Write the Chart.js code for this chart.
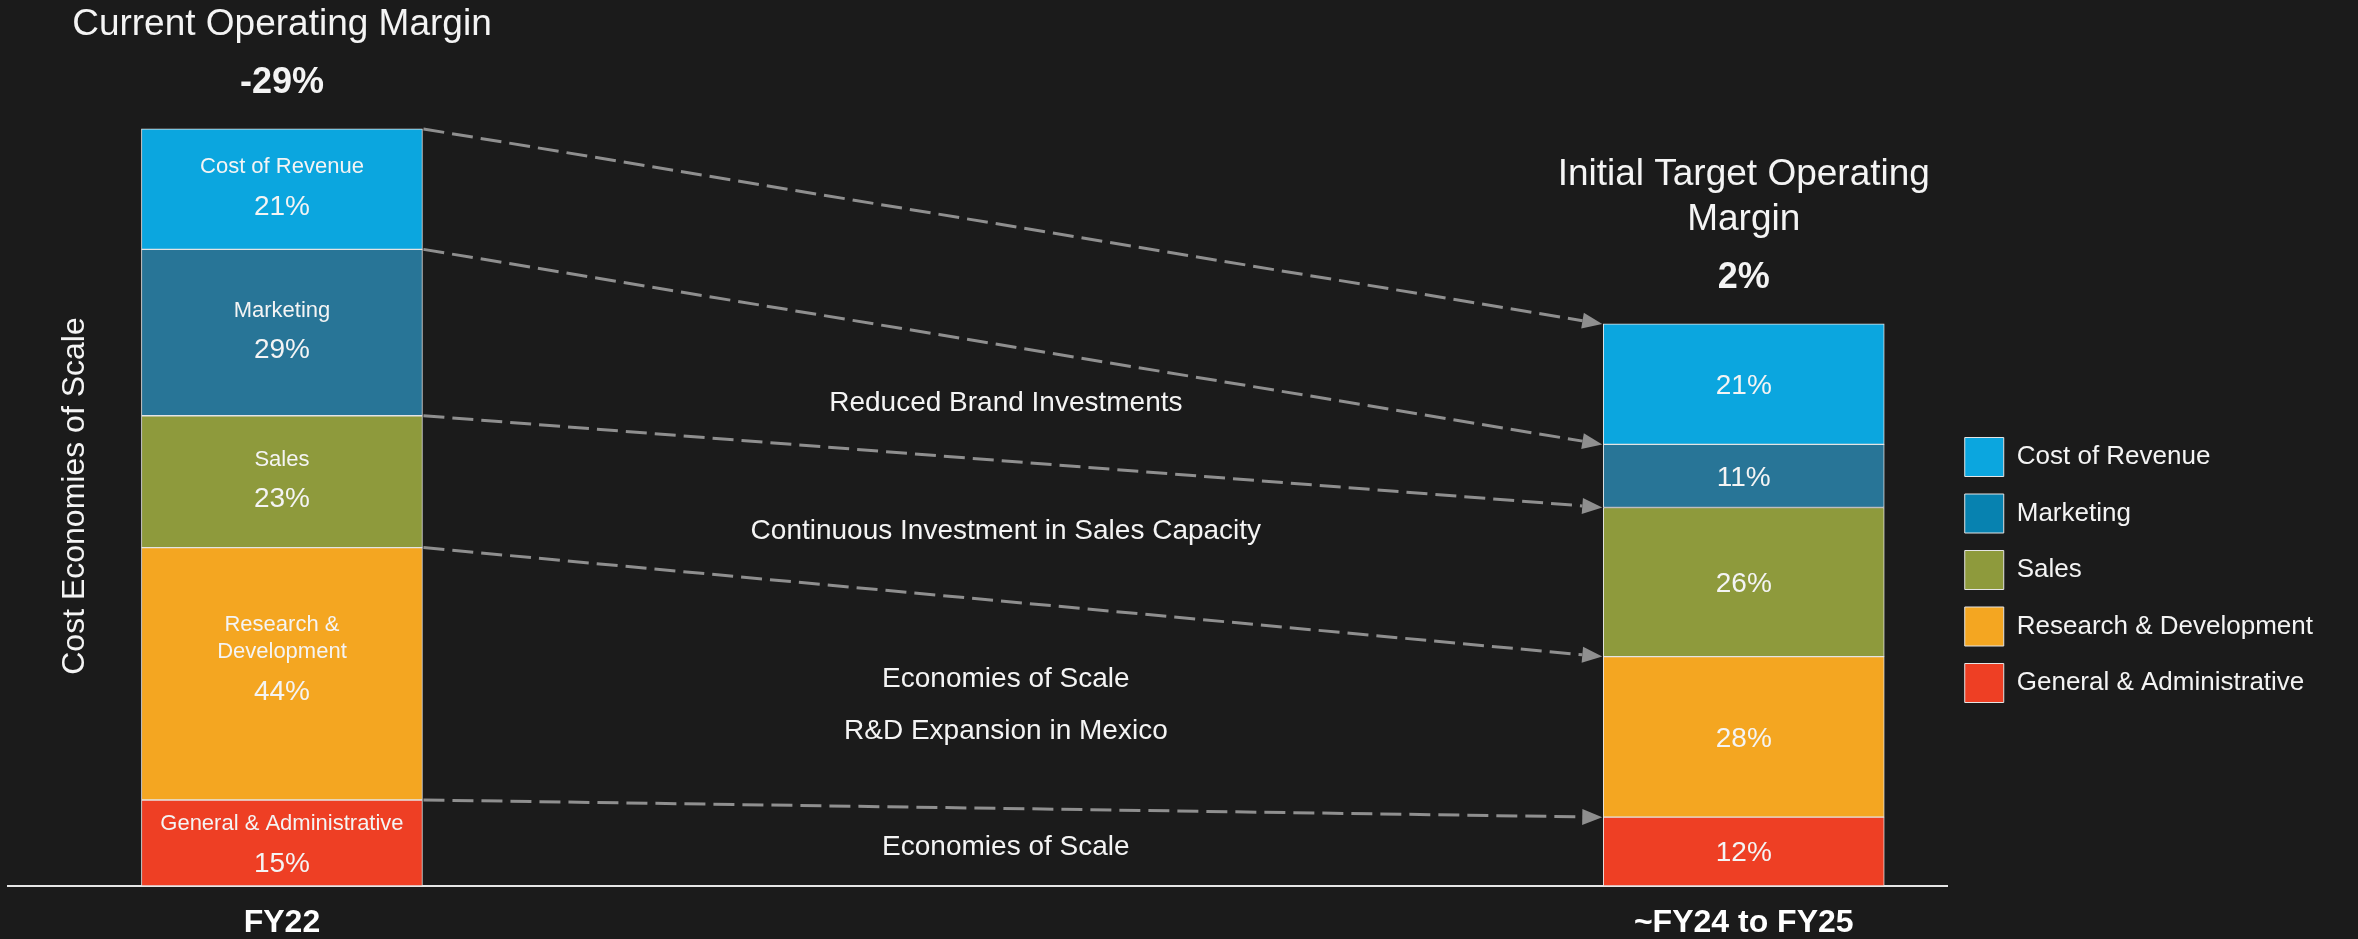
<!DOCTYPE html>
<html>
<head>
<meta charset="utf-8">
<script src="https://cdn.jsdelivr.net/npm/chart.js@4"></script>
<style>
  html, body { margin: 0; padding: 0; background: #1b1b1b; }
  #wrap { width: 2358px; height: 939px; position: relative; }
</style>
</head>
<body>
<div id="wrap"><canvas id="margin-chart"></canvas></div>
<script>
// data
const categories = ['FY22', '~FY24 to FY25'];
const costItems = ['Cost of Revenue', 'Marketing', 'Sales', 'Research & Development', 'General & Administrative'];
const barNames = [['Cost of Revenue'], ['Marketing'], ['Sales'], ['Research &', 'Development'], ['General & Administrative']];
const fy22Values = [21, 29, 23, 44, 15];
const fy25Values = [21, 11, 26, 28, 12];
const operatingMargins = [-29, 2];
const headings = [['Current Operating Margin'], ['Initial Target Operating', 'Margin']];
const driverNotes = [[], ['Reduced Brand Investments'], ['Continuous Investment in Sales Capacity'], ['Economies of Scale', 'R&D Expansion in Mexico'], ['Economies of Scale']];
const yAxisTitle = 'Cost Economies of Scale';

const barColors = ['#0ba6df', '#287597', '#8e9a3c', '#f4a621', '#ee3f24'];
const legendColors = ['#0ba6df', '#0782b0', '#8e9a3c', '#f4a621', '#ee3f24'];
const FONT = "'Liberation Sans', Arial, sans-serif";
const TEXT = '#f4f4f4';

Chart.defaults.font.family = FONT;
Chart.defaults.color = TEXT;

const series = [fy22Values, fy25Values];

// bottom segment first so the stack builds upward
const datasets = costItems.map((name, i) => ({
  label: name,
  data: series.map((vals, j) => ({ x: j, y: vals[i] })),
  backgroundColor: barColors[i],
  borderColor: '#e4e4e4',
  borderWidth: 1,
  borderSkipped: false,
  stack: 'cost',
  barThickness: 281
})).reverse();

function itemIndex(datasetIndex) {
  return costItems.length - 1 - datasetIndex;
}

function drawLines(ctx, lines, x, y, gap) {
  lines.forEach((t, k) => ctx.fillText(t, x, y + k * gap));
}

const slideText = {
  id: 'slideText',
  afterDraw(chart) {
    const ctx = chart.ctx;
    const n = costItems.length;
    const segs = [];
    for (let d = 0; d < n; d++) {
      const meta = chart.getDatasetMeta(d);
      segs[itemIndex(d)] = meta.data.map(el => el.getProps(['x', 'y', 'base', 'width'], true));
    }

    ctx.save();
    ctx.textAlign = 'center';
    ctx.textBaseline = 'middle';
    ctx.fillStyle = TEXT;

    // labels inside the bars
    segs.forEach((bars, i) => {
      const L = bars[0], R = bars[1];
      const cyL = (L.y + L.base) / 2;
      const low = i === n - 1 ? 3 : 0;
      ctx.font = '28px ' + FONT;
      ctx.fillText(fy22Values[i] + '%', L.x, cyL + 18 + low);
      ctx.font = '22px ' + FONT;
      const names = barNames[i];
      drawLines(ctx, names, L.x, cyL - 22 + low - (names.length - 1) * 27, 27);
      ctx.font = '28px ' + FONT;
      ctx.fillText(fy25Values[i] + '%', R.x, (R.y + R.base) / 2 + 2);
    });

    // dashed arrows joining the top of each segment
    const lineAt = (i, x) => {
      const L = segs[i][0], R = segs[i][1];
      const x0 = L.x + L.width / 2, x1 = R.x - R.width / 2;
      return L.y + (R.y - L.y) * (x - x0) / (x1 - x0);
    };
    ctx.strokeStyle = '#8f8f8f';
    ctx.fillStyle = '#8f8f8f';
    ctx.lineWidth = 3;
    segs.forEach(bars => {
      const L = bars[0], R = bars[1];
      const x0 = L.x + L.width / 2 + 1, y0 = L.y;
      const x1 = R.x - R.width / 2 - 1, y1 = R.y;
      const ang = Math.atan2(y1 - y0, x1 - x0);
      const len = 20, half = 8;
      const bx = x1 - Math.cos(ang) * len, by = y1 - Math.sin(ang) * len;
      ctx.setLineDash([21, 8]);
      ctx.beginPath();
      ctx.moveTo(x0, y0);
      ctx.lineTo(bx, by);
      ctx.stroke();
      ctx.setLineDash([]);
      ctx.beginPath();
      ctx.moveTo(x1, y1);
      ctx.lineTo(bx + Math.sin(ang) * half, by - Math.cos(ang) * half);
      ctx.lineTo(bx - Math.sin(ang) * half, by + Math.cos(ang) * half);
      ctx.closePath();
      ctx.fill();
    });

    // notes between the bars, centred in each band
    ctx.fillStyle = TEXT;
    ctx.font = '28px ' + FONT;
    const midX = (segs[0][0].x + segs[0][1].x) / 2 - 7;
    driverNotes.forEach((lines, i) => {
      if (!lines.length) return;
      const top = lineAt(i, midX);
      const bottom = i + 1 < n ? lineAt(i + 1, midX) : segs[i][0].base;
      const cy = (top + bottom) / 2;
      drawLines(ctx, lines, midX, cy - (lines.length - 1) * 26, 52);
    });

    // headings over each bar
    categories.forEach((c, j) => {
      const top = segs[0][j];
      ctx.font = 'bold 36px ' + FONT;
      ctx.fillText(operatingMargins[j] + '%', top.x, top.y - 46);
      ctx.font = '37px ' + FONT;
      const lines = headings[j];
      drawLines(ctx, lines, top.x, top.y - 104 - (lines.length - 1) * 45, 45);
    });
    ctx.restore();
  }
};

new Chart(document.getElementById('margin-chart'), {
  type: 'bar',
  data: { datasets },
  options: {
    responsive: true,
    maintainAspectRatio: false,
    animation: false,
    layout: { padding: { left: 8, right: 35, top: 106, bottom: 0 } },
    plugins: {
      tooltip: { enabled: false },
      legend: {
        position: 'right',
        reverse: true,
        title: { display: true, text: '', font: { size: 10 }, padding: { top: 83, bottom: 0 } },
        labels: {
          boxWidth: 39,
          boxHeight: 39,
          padding: 17.5,
          color: TEXT,
          font: { size: 26 },
          generateLabels(chart) {
            const items = Chart.defaults.plugins.legend.labels.generateLabels(chart);
            items.forEach(it => { it.fillStyle = legendColors[itemIndex(it.datasetIndex)]; });
            return items;
          }
        }
      }
    },
    scales: {
      x: {
        type: 'linear',
        offset: false,
        min: -0.1874,
        max: 1.1392,
        grid: { display: false, drawTicks: false, offset: false },
        border: { display: true, color: '#e6e6e6', width: 2 },
        afterBuildTicks(scale) {
          scale.ticks = categories.map((c, i) => ({ value: i }));
        },
        afterFit(scale) { scale.height = 53; },
        ticks: {
          padding: 18,
          color: '#ffffff',
          font: { size: 32, weight: 'bold' },
          callback: v => categories[v]
        }
      },
      y: {
        stacked: true,
        min: 0,
        max: 136,
        grid: { display: false },
        border: { display: false },
        ticks: { display: false },
        afterFit(scale) { scale.width = 0; },
        title: {
          display: true,
          text: yAxisTitle,
          color: TEXT,
          font: { size: 32 },
          padding: { top: 47.8, bottom: 0 }
        }
      }
    }
  },
  plugins: [slideText]
});
</script>
</body>
</html>
